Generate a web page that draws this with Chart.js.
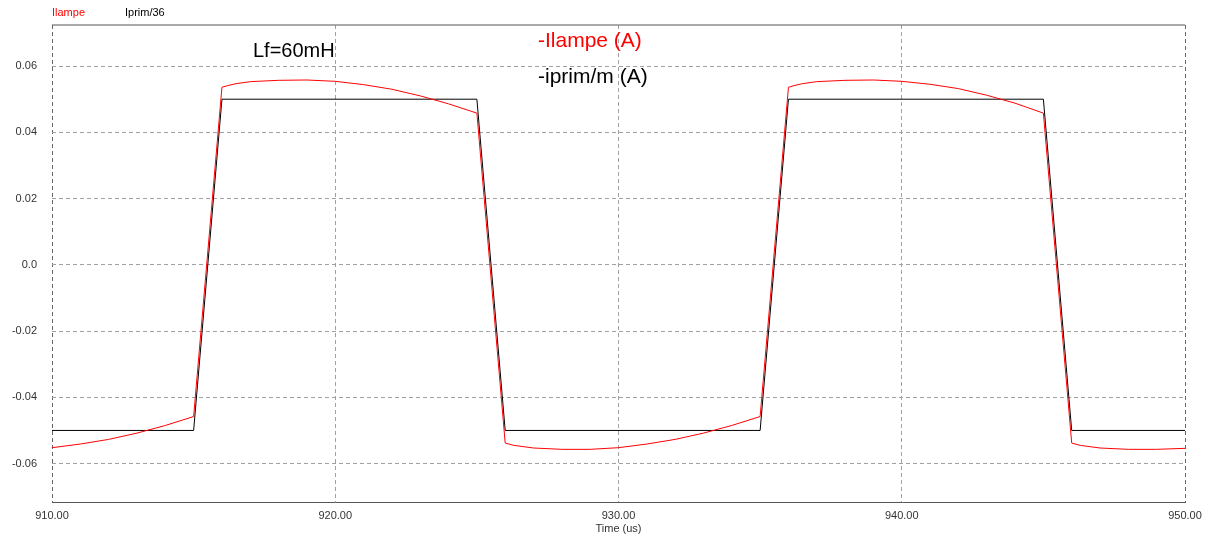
<!DOCTYPE html>
<html>
<head>
<meta charset="utf-8">
<script src="https://cdn.jsdelivr.net/npm/chart.js@4/dist/chart.umd.min.js"></script>
<style>
  body { margin: 0; background: #fff; }
  #wrap { position: relative; width: 1218px; height: 539px; font-family: "Liberation Sans", Arial, sans-serif; }
  .lbl { position: absolute; white-space: nowrap; }
  .leg { font-size: 11px; line-height: 11px; top: 7px; }
  .big { font-size: 20px; line-height: 20px; }
  .sig { font-size: 21px; line-height: 21px; }
</style>
</head>
<body>
<div id="wrap">
  <canvas id="scope" width="1218" height="539"></canvas>
  <div class="lbl leg" style="left:52px; color:#ff0000;">Ilampe</div>
  <div class="lbl leg" style="left:125px; color:#000;">Iprim/36</div>
  <div class="lbl big" style="left:253px; top:40px; color:#000;">Lf=60mH</div>
  <div class="lbl sig" style="left:538px; top:29px; color:#ff0000;">-Ilampe (A)</div>
  <div class="lbl sig" style="left:538px; top:65px; color:#000;">-iprim/m (A)</div>
</div>
<script>
// valeurs (temps en us, courant en A)
const xTicks = [910, 920, 930, 940, 950];
const yTicks = [0.06, 0.04, 0.02, 0, -0.02, -0.04, -0.06];
const yTickLabels = ['0.06', '0.04', '0.02', '0.0', '-0.02', '-0.04', '-0.06'];

const primTime = [910, 915, 916, 925, 926, 935, 936, 945, 946, 950];
const primVal = [-0.05, -0.05, 0.05, 0.05, -0.05, -0.05, 0.05, 0.05, -0.05, -0.05];

const lampTime = [
  910, 911, 912, 913, 914, 915,
  916, 916.2, 916.5, 917, 918, 919, 920, 921, 922, 923, 924, 925,
  926, 926.3, 927, 928, 929, 930, 931, 932, 933, 934, 935,
  936, 936.2, 936.5, 937, 938, 939, 940, 941, 942, 943, 944, 945,
  946, 946.3, 947, 948, 949, 950
];
const lampVal = [
  -0.0552, -0.0541, -0.0527, -0.0508, -0.0485, -0.0458,
  0.0536, 0.0541, 0.0547, 0.0553, 0.0557, 0.0558, 0.0554, 0.0544, 0.0530, 0.0510, 0.0486, 0.0458,
  -0.0538, -0.0545, -0.0553, -0.0557, -0.0557, -0.0552, -0.0541, -0.0527, -0.0508, -0.0485, -0.0458,
  0.0536, 0.0541, 0.0547, 0.0553, 0.0557, 0.0558, 0.0554, 0.0545, 0.0532, 0.0512, 0.0488, 0.0458,
  -0.0538, -0.0545, -0.0553, -0.0557, -0.0557, -0.0554
];

const toPoints = (xs, ys) => xs.map((x, i) => ({ x: x, y: ys[i] }));

// trait plein en haut du cadre
const frameTop = {
  id: 'frameTop',
  beforeDatasetsDraw(chart) {
    const { ctx, chartArea: a } = chart;
    ctx.save();
    ctx.strokeStyle = '#555';
    ctx.lineWidth = 1;
    ctx.beginPath();
    ctx.moveTo(a.left, a.top);
    ctx.lineTo(a.right, a.top);
    ctx.stroke();
    ctx.restore();
  }
};

const font = { family: '"Liberation Sans", Arial, sans-serif', size: 11 };

new Chart(document.getElementById('scope').getContext('2d'), {
  type: 'scatter',
  data: {
    datasets: [{
      label: 'Ilampe',
      data: toPoints(lampTime, lampVal),
      showLine: true,
      borderColor: '#ff0000',
      borderWidth: 1,
      pointRadius: 0,
      tension: 0
    }, {
      label: 'Iprim/36',
      data: toPoints(primTime, primVal),
      showLine: true,
      borderColor: '#000000',
      borderWidth: 1,
      pointRadius: 0,
      tension: 0
    }]
  },
  options: {
    responsive: false,
    animation: false,
    layout: { padding: { top: 25, right: 33, left: 0, bottom: 0 } },
    plugins: {
      legend: { display: false },
      tooltip: { enabled: false }
    },
    scales: {
      x: {
        type: 'linear',
        min: 910,
        max: 950,
        afterBuildTicks: function (scale) {
          scale.ticks = xTicks.map(v => ({ value: v }));
        },
        afterFit: function (scale) { scale.height = 37; },
        ticks: {
          padding: 7,
          color: '#333',
          font: font,
          maxRotation: 0,
          callback: function (value) { return value.toFixed(2); }
        },
        grid: {
          drawTicks: false,
          color: function (c) {
            return (c.index === 0 || c.index === xTicks.length - 1) ? '#666' : '#a0a0a0';
          }
        },
        border: { display: true, color: '#555', width: 1, dash: [4, 3] },
        title: {
          display: true,
          text: 'Time (us)',
          color: '#333',
          font: font,
          padding: { top: 0, bottom: 3 }
        }
      },
      y: {
        min: -0.0716,
        max: 0.0724,
        afterBuildTicks: function (scale) {
          scale.ticks = yTicks.map(v => ({ value: v }));
        },
        afterFit: function (scale) { scale.width = 52; },
        ticks: {
          padding: 15,
          color: '#333',
          font: font,
          callback: function (value, index) { return yTickLabels[index]; }
        },
        grid: { drawTicks: false, color: '#a0a0a0' },
        border: { display: false, dash: [4, 3] }
      }
    }
  },
  plugins: [frameTop]
});
</script>
</body>
</html>
